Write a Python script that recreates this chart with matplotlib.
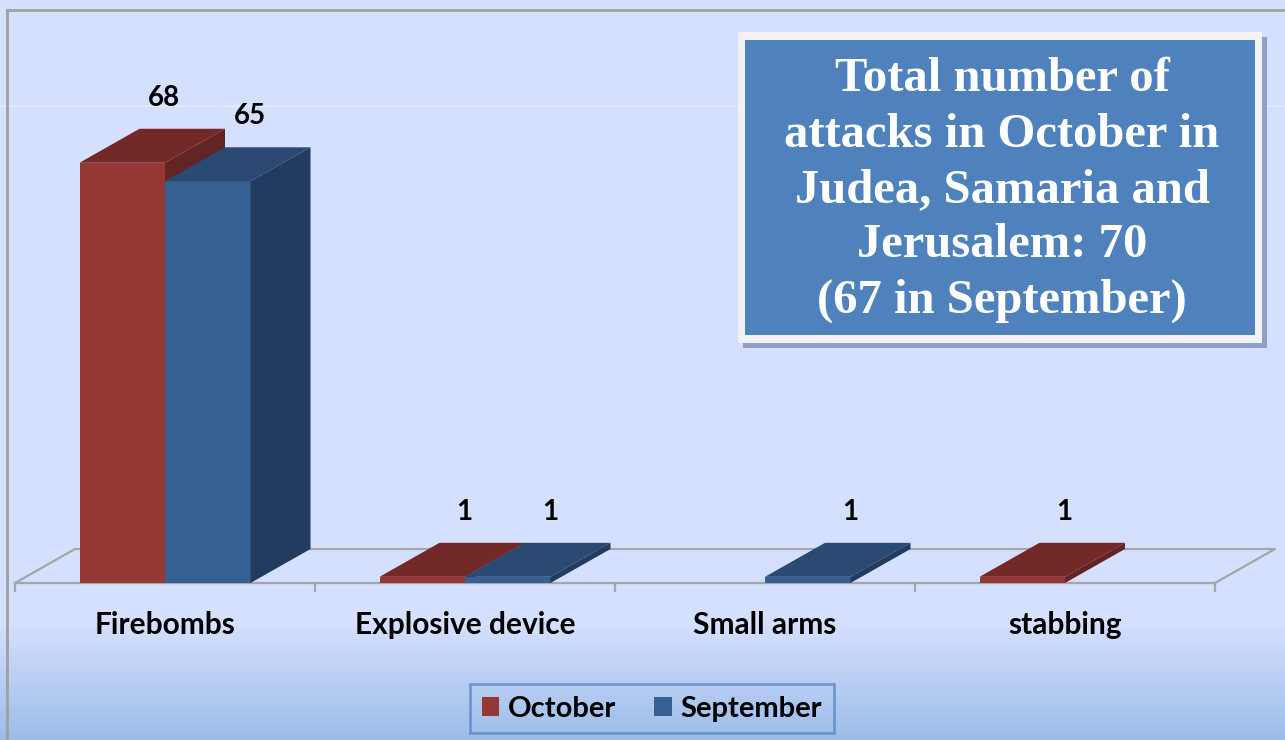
import numpy as np
import matplotlib.pyplot as plt
from matplotlib.patches import Polygon, Patch, Rectangle
from matplotlib.lines import Line2D
import matplotlib.colors as mcolors

categories = ["Firebombs", "Explosive device", "Small arms", "stabbing"]
october = [68, 1, 0, 1]
september = [65, 1, 1, 0]
series_names = ["October", "September"]

# colores (frente, arriba, lado)
red = ("#953735", "#722928", "#632523")
blue = ("#376092", "#2A4A73", "#213C5E")

W, H = 1285, 740
fig = plt.figure(figsize=(W / 100, H / 100), dpi=100)

# fondo con degradado
bg = fig.add_axes([0, 0, 1, 1])
bg.set_axis_off()
top_c = np.array(mcolors.to_rgb("#D5DFFE"))
bot_c = np.array(mcolors.to_rgb("#9CBDE8"))
rows = np.linspace(0, 1, H)
t = np.clip((rows * H - 625) / (H - 625), 0, 1)
grad = top_c[None, :] * (1 - t[:, None]) + bot_c[None, :] * t[:, None]
bg.imshow(grad[:, None, :], aspect="auto", extent=[0, 1, 1, 0])
bg.set_xlim(0, 1)
bg.set_ylim(1, 0)

# marco gris
fig.add_artist(Line2D([7 / W, 7 / W], [0, 1 - 10 / H], color="#A0A0A0", lw=2, transform=fig.transFigure))
fig.add_artist(Line2D([7 / W, 1], [1 - 10 / H, 1 - 10 / H], color="#A0A0A0", lw=2, transform=fig.transFigure))

# ejes principales: x en categorias, y en valores
ppu = 6.18  # pixeles por unidad
ax = fig.add_axes([0, 0, 1, 1])
ax.set_axis_off()
ax.patch.set_alpha(0)
ax.set_xlim(-165 / 300, (W - 165) / 300)
ax.set_ylim((583 - H) / ppu, 583 / ppu)

dx = 60 / 300      # profundidad en x
dy = 34 / ppu      # profundidad en y
bw = 0.285

# linea de cuadricula tenue
ax.axhline(dy + 71.7, color="#E4EAFE", lw=1.2, zorder=0)

# piso
n = len(categories)
floor = [(-0.5, 0), (n - 0.5, 0), (n - 0.5 + dx, dy), (-0.5 + dx, dy), (-0.5, 0)]
fx, fy = zip(*floor)
ax.plot(fx, fy, color="#A6A6A6", lw=1.6, zorder=1)
for k in range(n + 1):
    ax.plot([k - 0.5, k - 0.5], [0, -8 / ppu], color="#A6A6A6", lw=1.6, zorder=1)


def bar3d(x0, h, cols):
    if h <= 0:
        return
    front, topc, side = cols
    ax.add_patch(Polygon([(x0, 0), (x0 + bw, 0), (x0 + bw, h), (x0, h)], closed=True,
                         facecolor=front, edgecolor="none", zorder=3))
    ax.add_patch(Polygon([(x0, h), (x0 + bw, h), (x0 + bw + dx, h + dy), (x0 + dx, h + dy)], closed=True,
                         facecolor=topc, edgecolor="none", zorder=3))
    ax.add_patch(Polygon([(x0 + bw, 0), (x0 + bw + dx, dy), (x0 + bw + dx, h + dy), (x0 + bw, h)], closed=True,
                         facecolor=side, edgecolor="none", zorder=3))


for i in range(n):
    bar3d(i - bw, october[i], red)
    bar3d(i, september[i], blue)
    for x0, v in [(i - bw, october[i]), (i, september[i])]:
        if v > 0:
            ax.text(x0 + bw / 2 + 0.14, v + 65 / ppu, str(v), ha="center", va="center",
                    fontsize=20, fontweight="bold", family="Lato", color="black", zorder=5)
    ax.text(i, -42 / ppu, categories[i], ha="center", va="center",
            fontsize=21.5, fontweight="bold", family="Lato", color="black")

# leyenda
handles = [Patch(facecolor=red[0], edgecolor="none"), Patch(facecolor=blue[0], edgecolor="none")]
leg = fig.legend(handles, series_names, loc="upper center", bbox_to_anchor=(652 / W, 1 - 684 / H),
                 ncol=2, frameon=True, fancybox=False, prop={"family": "Lato", "weight": "bold", "size": 21},
                 handlelength=0.6, handleheight=0.6, handletextpad=0.3, columnspacing=1.3,
                 borderpad=0.4, borderaxespad=0)
leg.get_frame().set_edgecolor("#5F89C5")
leg.get_frame().set_facecolor("none")
leg.get_frame().set_linewidth(2)

# cuadro de texto
fig.add_artist(Rectangle((743 / W, 1 - 348 / H), 524 / W, 311 / H, transform=fig.transFigure,
                         facecolor="#8FA0C8", edgecolor="none"))
fig.add_artist(Rectangle((738 / W, 1 - 343 / H), 524 / W, 311 / H, transform=fig.transFigure,
                         facecolor="#F2F2F2", edgecolor="none"))
fig.add_artist(Rectangle((745 / W, 1 - 335 / H), 510 / W, 295 / H, transform=fig.transFigure,
                         facecolor="#4F81BD", edgecolor="none"))
fig.text(1002 / W, 1 - 190 / H,
         "Total number of\nattacks in October in\nJudea, Samaria and\nJerusalem: 70\n(67 in September)",
         ha="center", va="center", color="white", fontsize=35, fontweight="bold",
         family="Liberation Serif", linespacing=1.33)

fig.savefig("out.png", dpi=100)
